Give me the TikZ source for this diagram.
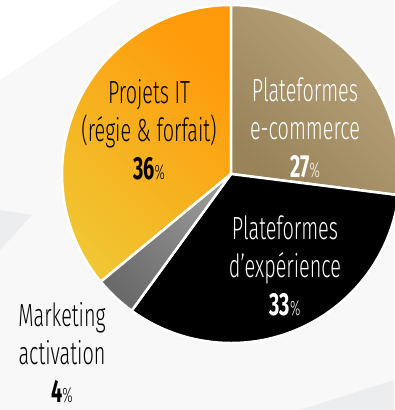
\documentclass[tikz,border=0pt]{standalone}
\usepackage{fontspec}
\setmainfont{Fira Sans}[FakeStretch=0.62, UprightFont={* Light}, BoldFont={* Bold}]

\definecolor{bgwhite}{HTML}{F8F8F9}
\definecolor{bgfacet}{HTML}{ECEDEF}
\definecolor{itlight}{HTML}{F0C632}
\definecolor{itdark}{HTML}{FF9A0A}
\definecolor{ecolight}{HTML}{BAA67C}
\definecolor{ecodark}{HTML}{98825A}
\definecolor{mktlight}{HTML}{989898}
\definecolor{mktdark}{HTML}{6A6A6A}

\newcommand{\pct}[1]{{\bfseries #1}{\fontsize{21}{21}\selectfont\%}}

\begin{document}
\begin{tikzpicture}[x=1pt,y=1pt,
  slice/.style={draw=white, line width=2.5pt, line join=round},
  lbl/.style={align=center, inner sep=0pt, font=\fontsize{32}{38}\selectfont}]

  \useasboundingbox (0,0) rectangle (394,410);

  % Background
  \fill[bgwhite] (0,0) rectangle (394,410);
  \fill[white] (0,330) -- (120,410) -- (0,410) -- cycle;
  \fill[bgfacet] (0,200) -- (32,195) -- (0,160) -- cycle;
  \fill[bgfacet] (300,0) -- (394,30) -- (394,0) -- cycle;

  % Slices
  \coordinate (c) at (231,236);
  \draw[slice, left color=itlight, right color=itdark, shading angle=135]
    (c) -- ++(-140.4:169) arc[start angle=-140.4, end angle=-270, radius=169] -- cycle;
  \draw[slice, left color=ecodark, right color=ecolight, shading angle=135]
    (c) -- ++(90:169) arc[start angle=90, end angle=-7.2, radius=169] -- cycle;
  \draw[slice, fill=black]
    (c) -- ++(-7.2:169) arc[start angle=-7.2, end angle=-126, radius=169] -- cycle;
  \draw[slice, left color=mktdark, right color=mktlight, shading angle=135]
    (c) -- ++(-126:169) arc[start angle=-126, end angle=-140.4, radius=169] -- cycle;

  % Labels
  \node[lbl, text=black] (projets) at (149,280) {Projets IT\\(régie \& forfait)\\\pct{36}};
  \node[lbl, text=white] (ecommerce) at (305,282) {Plateformes\\e-commerce\\\pct{27}};
  \node[lbl, text=white] (experience) at (285,144) {Plateformes\\d’expérience\\\pct{33}};
  \node[lbl, text=black] (marketing) at (62,57) {Marketing\\activation\\\pct{4}};

\end{tikzpicture}
\end{document}
